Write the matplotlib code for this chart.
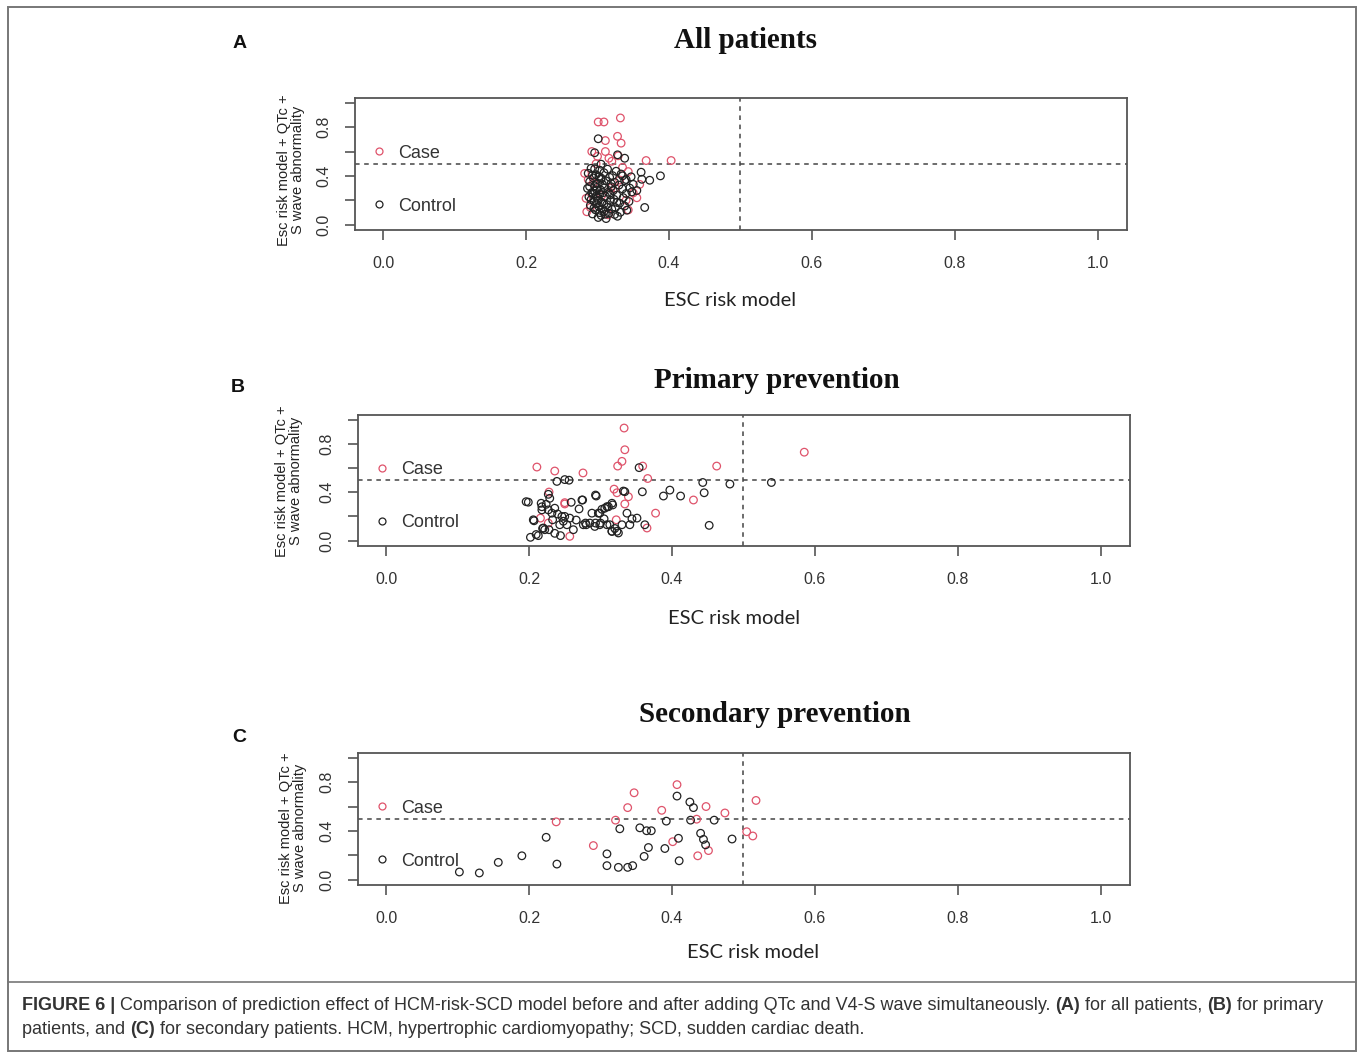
import numpy as np
import matplotlib
matplotlib.use("Agg")
import matplotlib.pyplot as plt
from matplotlib.lines import Line2D

W, H = 1358, 1052

# ---- panel A: all patients ----
a_ctrl = [(0.301,0.705),(0.328,0.573),(0.338,0.545),(0.296,0.59),(0.305,0.496),(0.296,0.457),
          (0.361,0.43),(0.362,0.372),(0.373,0.364),(0.388,0.40),(0.366,0.14),(0.350,0.33),
          (0.345,0.30),(0.355,0.28),(0.340,0.37),(0.335,0.40),
          (0.291,0.462),(0.303,0.447),(0.314,0.455),(0.326,0.438),(0.287,0.421),(0.298,0.409),
          (0.309,0.426),(0.321,0.402),(0.333,0.415),(0.347,0.392),(0.294,0.383),(0.305,0.371),
          (0.317,0.388),(0.289,0.352),(0.300,0.340),(0.312,0.359),(0.324,0.346),(0.338,0.361),
          (0.296,0.318),(0.307,0.329),(0.319,0.311),(0.330,0.324),(0.286,0.297),(0.299,0.285),
          (0.310,0.302),(0.322,0.279),(0.335,0.293),(0.348,0.268),(0.292,0.262),(0.303,0.249),
          (0.315,0.266),(0.327,0.241),(0.340,0.255),(0.288,0.228),(0.300,0.216),(0.311,0.233),
          (0.323,0.207),(0.336,0.221),(0.295,0.193),(0.306,0.181),(0.318,0.198),(0.331,0.176),
          (0.344,0.189),(0.290,0.158),(0.302,0.147),(0.313,0.164),(0.325,0.139),(0.338,0.152),
          (0.297,0.121),(0.309,0.108),(0.320,0.126),(0.332,0.101),(0.293,0.087),(0.305,0.075),
          (0.316,0.092),(0.328,0.068),(0.301,0.058),(0.312,0.049),(0.324,0.083),(0.341,0.118),
          (0.296,0.275),(0.308,0.262),(0.318,0.243),(0.301,0.198),(0.314,0.141),(0.327,0.182),
          (0.305,0.382),(0.319,0.337),(0.298,0.232),(0.309,0.168),
          (0.293,0.405),(0.302,0.395),(0.289,0.312),(0.294,0.248),(0.291,0.205),(0.298,0.172),
          (0.295,0.135),(0.303,0.098),(0.307,0.128),(0.311,0.085),(0.299,0.305),(0.304,0.286)]
a_case = [(0.301,0.843),(0.309,0.843),(0.332,0.876),(0.311,0.69),(0.328,0.725),(0.333,0.669),
          (0.292,0.60),(0.311,0.60),(0.316,0.545),(0.329,0.565),(0.368,0.526),(0.403,0.526),
          (0.343,0.435),(0.331,0.366),(0.282,0.42),(0.284,0.215),(0.285,0.105),(0.343,0.12),
          (0.350,0.26),(0.359,0.33),(0.294,0.34),(0.319,0.30),(0.300,0.56),(0.320,0.52),
          (0.287,0.37),(0.340,0.20),(0.306,0.24),(0.335,0.47),(0.290,0.14),(0.315,0.08),
          (0.355,0.22),(0.298,0.50),(0.325,0.30)]

# ---- panel B: primary prevention ----
b_ctrl = [(0.196,0.322),(0.199,0.318),(0.217,0.309),(0.218,0.28),(0.229,0.35),(0.227,0.383),
          (0.218,0.254),(0.207,0.164),(0.206,0.172),(0.202,0.027),(0.213,0.041),(0.210,0.05),
          (0.219,0.10),(0.222,0.09),(0.228,0.09),(0.239,0.49),(0.250,0.505),(0.256,0.50),
          (0.259,0.317),(0.270,0.262),(0.275,0.336),(0.294,0.369),(0.236,0.268),(0.246,0.20),
          (0.248,0.16),(0.244,0.041),(0.253,0.131),(0.257,0.186),(0.243,0.131),(0.233,0.172),
          (0.227,0.254),(0.232,0.227),(0.250,0.20),(0.276,0.131),(0.280,0.131),(0.292,0.117),
          (0.299,0.131),(0.313,0.131),(0.316,0.076),(0.325,0.063),(0.330,0.131),(0.341,0.131),
          (0.351,0.186),(0.362,0.131),(0.288,0.227),(0.299,0.227),(0.306,0.268),(0.311,0.28),
          (0.317,0.295),(0.337,0.227),(0.332,0.41),(0.334,0.405),(0.3585,0.404),(0.354,0.604),
          (0.388,0.369),(0.397,0.418),(0.412,0.369),(0.443,0.481),(0.445,0.396),(0.452,0.126),
          (0.481,0.468),(0.539,0.481),(0.279,0.145),(0.285,0.145),(0.293,0.145),(0.300,0.145),
          (0.309,0.131),(0.316,0.077),(0.323,0.077),(0.274,0.336),(0.220,0.104),(0.293,0.377),
          (0.297,0.227),(0.302,0.259),(0.309,0.281),(0.316,0.309),(0.240,0.22),(0.262,0.09),
          (0.236,0.06),(0.266,0.17),(0.224,0.30),(0.320,0.10),(0.344,0.18),(0.305,0.18)]
b_case = [(0.333,0.932),(0.334,0.752),(0.330,0.656),(0.324,0.617),(0.211,0.609),(0.236,0.576),
          (0.2755,0.560),(0.359,0.617),(0.366,0.514),(0.4625,0.617),(0.585,0.732),(0.319,0.426),
          (0.323,0.396),(0.339,0.363),(0.334,0.303),(0.228,0.402),(0.250,0.303),(0.377,0.227),
          (0.430,0.336),(0.216,0.186),(0.257,0.035),(0.365,0.104),(0.322,0.172),(0.227,0.145),
          (0.250,0.314)]

# ---- panel C: secondary prevention ----
c_ctrl = [(0.1026,0.062),(0.1305,0.054),(0.157,0.141),(0.190,0.195),(0.224,0.347),(0.239,0.127),
          (0.309,0.211),(0.309,0.114),(0.325,0.10),(0.338,0.10),(0.345,0.114),(0.327,0.417),
          (0.355,0.425),(0.3645,0.401),(0.371,0.401),(0.361,0.19),(0.367,0.263),(0.390,0.255),
          (0.392,0.48),(0.407,0.686),(0.409,0.339),(0.410,0.154),(0.425,0.637),(0.430,0.591),
          (0.426,0.488),(0.440,0.38),(0.444,0.33),(0.447,0.285),(0.459,0.488),(0.484,0.333)]
c_case = [(0.238,0.474),(0.290,0.279),(0.321,0.488),(0.338,0.591),(0.347,0.713),(0.3856,0.569),
          (0.407,0.78),(0.401,0.311),(0.4345,0.496),(0.436,0.195),(0.4476,0.60),(0.451,0.238),
          (0.474,0.547),(0.5045,0.393),(0.513,0.358),(0.5175,0.65)]

titles = ["All patients", "Primary prevention", "Secondary prevention"]
letters = ["A", "B", "C"]
xticks = [0.0, 0.2, 0.4, 0.6, 0.8, 1.0]
yticks = [0.0, 0.2, 0.4, 0.6, 0.8, 1.0]
ylab = "Esc risk model + QTc +\nS wave abnormality"

RED = "#DF536B"
BLK = "#222222"
GRID = "#555555"
TXT = "#333333"

# pixel boxes (left, top, right, bottom) and label anchors
boxes = [(355, 98, 1127, 230), (358, 415, 1130, 546), (358, 753, 1130, 885)]
title_xy = [(745, 40), (777, 380), (775, 714)]
letter_xy = [(240, 43), (238, 388), (239, 737)]
xlab_xy = [(730, 300), (734, 618), (753, 952)]
ylab_xy = [(291, 170), (289, 481), (293, 828)]

fig = plt.figure(figsize=(W / 100, H / 100), dpi=100)

def fx(px):
    return px / W

def fy(py):
    return 1 - py / H

for i, (ctrl, case) in enumerate([(a_ctrl, a_case), (b_ctrl, b_case), (c_ctrl, c_case)]):
    l, t, r, b = boxes[i]
    ax = fig.add_axes([fx(l), fy(b), (r - l) / W, (b - t) / H])
    cx, cy = np.array(ctrl).T
    kx, ky = np.array(case).T
    ax.scatter(kx, ky, s=30, facecolors="none", edgecolors=RED, linewidths=0.9, zorder=3)
    ax.scatter(cx, cy, s=30, facecolors="none", edgecolors=BLK, linewidths=0.9, zorder=3)
    ax.axhline(0.5, color="#444444", ls=(0, (3, 3)), lw=1.1, zorder=2)
    ax.axvline(0.5, color="#444444", ls=(0, (3, 3)), lw=1.1, zorder=2)
    ax.set_xlim(-0.0392, 1.0406)
    ax.set_ylim(-0.045, 1.04)
    ax.set_xticks(xticks)
    ax.set_xticklabels(["%.1f" % v for v in xticks])
    ax.set_yticks(yticks)
    ax.set_yticklabels(["%.1f" % v if k % 2 == 0 else "" for k, v in enumerate(yticks)],
                       rotation=90, va="center")
    ax.tick_params(axis="both", direction="out", length=7, width=1.2, color=GRID,
                   labelsize=11.5, labelcolor=TXT, labelfontfamily="Liberation Sans")
    ax.tick_params(axis="x", pad=12)
    ax.tick_params(axis="y", pad=10)
    for sp in ax.spines.values():
        sp.set_color(GRID)
        sp.set_linewidth(1.3)
    hs = [Line2D([], [], ls="none", marker="o", mfc="none", mec=RED, ms=5, mew=0.9),
          Line2D([], [], ls="none", marker="o", mfc="none", mec=BLK, ms=5, mew=0.9)]
    ax.legend(hs, ["Case", "Control"], loc="upper left", bbox_to_anchor=(-0.002, 0.77),
              frameon=False, labelspacing=2.0, handletextpad=0.55, handlelength=1.0,
              prop={"family": "Liberation Sans", "size": 13}, labelcolor=TXT)

    fig.text(fx(title_xy[i][0]), fy(title_xy[i][1]), titles[i], ha="center", va="center",
             fontsize=21, fontweight="bold", family="Liberation Serif", color="#111111")
    fig.text(fx(letter_xy[i][0]), fy(letter_xy[i][1]), letters[i], ha="center", va="center",
             fontsize=14, fontweight="bold", family="Liberation Sans", color="#111111")
    fig.text(fx(xlab_xy[i][0]), fy(xlab_xy[i][1]), "ESC risk model", ha="center", va="center",
             fontsize=14.5, family="Lato", color="#222222")
    fig.text(fx(ylab_xy[i][0]), fy(ylab_xy[i][1]), ylab, ha="center", va="center",
             rotation=90, fontsize=10.5, family="Liberation Sans", color="#222222",
             linespacing=1.05)

# frame and caption separator
fig.add_artist(plt.Rectangle((fx(7.5), fy(1050.5)), (1356 - 7.5) / W, (1050.5 - 6.5) / H,
                             transform=fig.transFigure, fill=False, ec="#777777", lw=1.4))
fig.add_artist(Line2D([fx(7.5), fx(1356)], [fy(982), fy(982)], transform=fig.transFigure,
                      color="#777777", lw=1.2))

# caption with bold pieces, placed piece by piece
cap_lines = [
    [("FIGURE 6 |", True), (" Comparison of prediction effect of HCM-risk-SCD model before and after adding QTc and V4-S wave simultaneously. ", False),
     ("(A)", True), (" for all patients, ", False), ("(B)", True), (" for primary", False)],
    [("patients, and ", False), ("(C)", True), (" for secondary patients. HCM, hypertrophic cardiomyopathy; SCD, sudden cardiac death.", False)],
]
cap_y = [1005, 1030]
fig.canvas.draw()
rend = fig.canvas.get_renderer()
for line, yy in zip(cap_lines, cap_y):
    xpos = 22
    for txt, bold in line:
        t = fig.text(fx(xpos), fy(yy), txt, ha="left", va="center", fontsize=13,
                     family="Liberation Sans", fontweight="bold" if bold else "normal",
                     color="#333333")
        bb = t.get_window_extent(renderer=rend)
        xpos += bb.width

fig.savefig("out.png", dpi=100)
